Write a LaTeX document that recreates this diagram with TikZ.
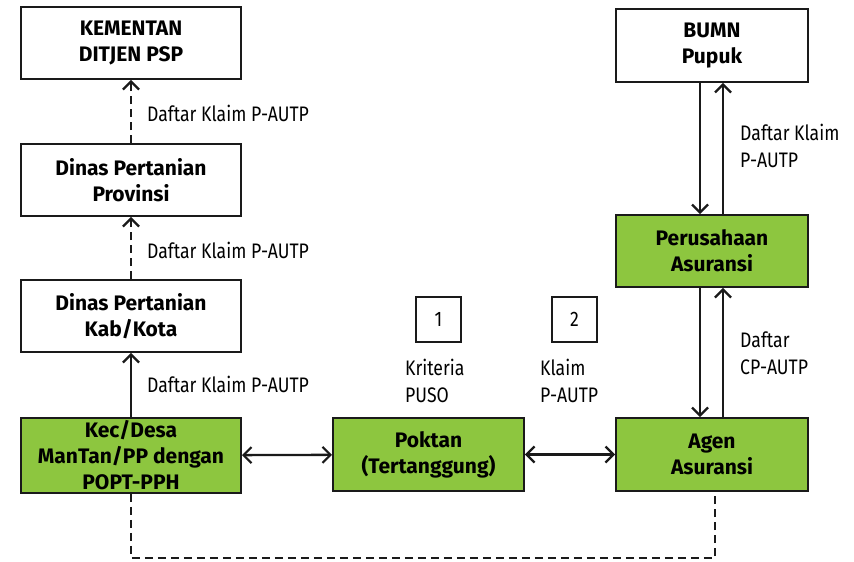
\documentclass[tikz,border=0pt]{standalone}
\usepackage{fontspec}
\setmainfont{Fira Sans}
\newfontfamily\labelfont[FakeStretch=0.84]{Fira Sans}
\usetikzlibrary{arrows.meta}
\definecolor{boxgreen}{HTML}{8DC63F}
\definecolor{linec}{HTML}{1A1A1A}
\begin{document}
\begin{tikzpicture}[x=1pt,y=-1pt,
  box/.style={draw=linec, line width=1.9pt, minimum width=220pt, minimum height=72pt,
    align=center, inner sep=0pt, font=\bfseries\fontsize{21}{26}\selectfont},
  rbox/.style={box, minimum width=192pt},
  gbox/.style={fill=boxgreen},
  numbox/.style={draw=linec, line width=1.6pt, minimum width=45pt, minimum height=45pt,
    inner sep=0pt, font=\labelfont\fontsize{21}{24}\selectfont},
  lbl/.style={font=\labelfont\fontsize{21}{27}\selectfont, align=left, anchor=west, inner sep=0pt},
  tip/.tip={Straight Barb[length=8pt,width=16pt,line width=2.2pt]},
  conn/.style={draw=linec, line width=2.3pt, -tip},
  conn2/.style={draw=linec, line width=2.3pt, tip-tip},
  dashline/.style={dash pattern=on 8pt off 5pt}
]
\useasboundingbox (0,0) rectangle (854,562);

\node[box] (kem) at (131,43) {KEMENTAN\\DITJEN PSP};
\node[box] (prov) at (131,180) {Dinas Pertanian\\Provinsi};
\node[box] (kab) at (131,316) {Dinas Pertanian\\Kab/Kota};
\node[box, gbox, minimum height=75pt] (kec) at (131,455.5) {Kec/Desa\\ManTan/PP dengan\\POPT-PPH};
\node[box, gbox, minimum width=191pt, minimum height=73pt] (poktan) at (428.5,454.5) {Poktan\\(Tertanggung)};
\node[rbox, gbox, minimum height=73pt] (agen) at (712,454.5) {Agen\\Asuransi};
\node[rbox, gbox] (pers) at (712,251) {Perusahaan\\Asuransi};
\node[rbox, minimum height=73pt] (bumn) at (712,45.5) {BUMN\\Pupuk};

\node[numbox] (n1) at (438.5,319.5) {1};
\node[numbox] (n2) at (574.5,319.5) {2};

\node[lbl] (l1) at (147,113) {Daftar Klaim P-AUTP};
\node[lbl] (l2) at (147,250) {Daftar Klaim P-AUTP};
\node[lbl] (l3) at (147,384) {Daftar Klaim P-AUTP};
\node[lbl] (l4) at (405,381) {Kriteria\\PUSO};
\node[lbl] (l5) at (540,381) {Klaim\\P-AUTP};
\node[lbl] (l6) at (740,146) {Daftar Klaim\\P-AUTP};
\node[lbl] (l7) at (740,353) {Daftar\\CP-AUTP};

\draw[conn, dashline] (prov) -- (kem);
\draw[conn, dashline] (kab) -- (prov);
\draw[conn] (kec) -- (kab);
\draw[conn2] (kec) -- (poktan);
\draw[conn2] (poktan) -- (agen);
\draw[conn] ([xshift=-12pt]bumn.south) -- ([xshift=-12pt]pers.north);
\draw[conn] ([xshift=11pt]pers.north) -- ([xshift=11pt]bumn.south);
\draw[conn] ([xshift=-12pt]pers.south) -- ([xshift=-12pt]agen.north);
\draw[conn] ([xshift=11pt]agen.north) -- ([xshift=11pt]pers.south);

\coordinate (bot) at (0,558);
\draw[draw=linec, line width=2.3pt, dashline] (kec.south) -- (kec.south |- bot) -| ([xshift=3pt]agen.south);
\end{tikzpicture}
\end{document}
